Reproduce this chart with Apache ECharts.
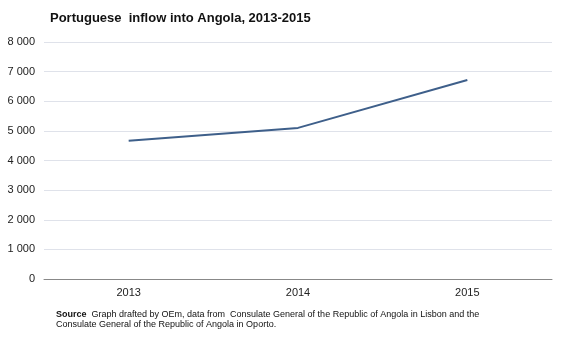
<!DOCTYPE html>
<html>
<head>
<meta charset="utf-8">
<script src="https://cdn.jsdelivr.net/npm/echarts@6/dist/echarts.min.js"></script>
<style>
  html, body { margin: 0; padding: 0; background: #fff; }
  #chart { width: 567px; height: 340px; }
</style>
</head>
<body>
<div id="chart"></div>
<script>
// Portuguese inflow into Angola, by year
const years = ['2013', '2014', '2015'];
const inflow = [4670, 5100, 6720];
const yTicks = { min: 0, max: 8000, step: 1000 };

const fmt = v => String(v).replace(/\B(?=(\d{3})+(?!\d))/g, ' ');

const chart = echarts.init(document.getElementById('chart'), null, { renderer: 'canvas' });
chart.setOption({
  animation: false,
  backgroundColor: '#ffffff',
  title: {
    text: 'Portuguese  inflow into Angola, 2013-2015',
    left: 45,
    top: 7,
    textStyle: { fontFamily: 'Arial, Liberation Sans', fontSize: 13, fontWeight: 'bold', color: '#111' }
  },
  grid: { left: 44, right: 15, top: 42, bottom: 61, containLabel: false },
  xAxis: {
    type: 'category',
    data: years,
    boundaryGap: true,
    axisLine: { lineStyle: { color: '#888', width: 1 } },
    axisTick: { show: false },
    axisLabel: { margin: 8, fontFamily: 'Arial, Liberation Sans', fontSize: 11, color: '#222' }
  },
  yAxis: {
    type: 'value',
    min: yTicks.min,
    max: yTicks.max,
    interval: yTicks.step,
    axisLine: { show: false },
    axisTick: { show: false },
    splitLine: { lineStyle: { color: '#dfe2ea', width: 1 } },
    axisLabel: { margin: 9, formatter: fmt, fontFamily: 'Arial, Liberation Sans', fontSize: 11, color: '#222' }
  },
  series: [{
    type: 'line',
    data: inflow,
    symbol: 'none',
    lineStyle: { color: '#3e5f8a', width: 2 }
  }],
  graphic: [{
    type: 'text',
    left: 56,
    top: 310,
    style: {
      rich: {
        b: { fontFamily: 'Arial, Liberation Sans', fontSize: 9, fontWeight: 'bold', fill: '#111', lineHeight: 10 },
        n: { fontFamily: 'Arial, Liberation Sans', fontSize: 9, fill: '#111', lineHeight: 10 }
      },
      text: '{b|Source}{n|  Graph drafted by OEm, data from  Consulate General of the Republic of Angola in Lisbon and the}\n{n|Consulate General of the Republic of Angola in Oporto.}'
    }
  }]
});
</script>
</body>
</html>
